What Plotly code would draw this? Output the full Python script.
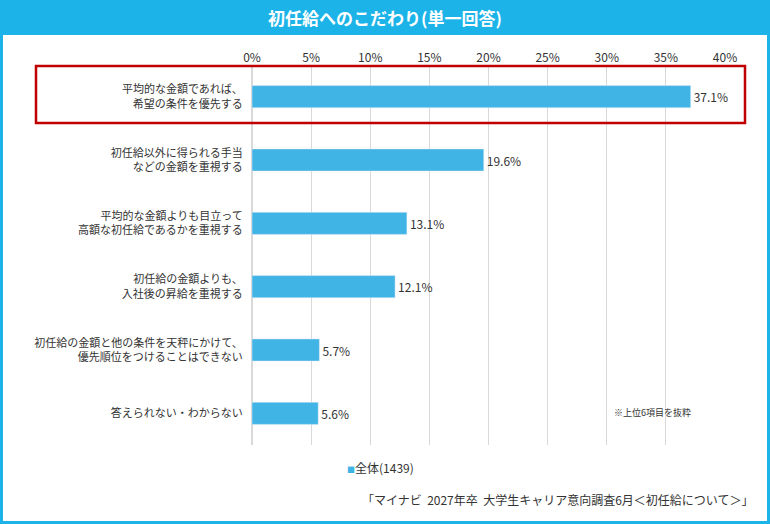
import plotly.graph_objects as go

categories = [
    "平均的な金額であれば、<br>希望の条件を優先する",
    "初任給以外に得られる手当<br>などの金額を重視する",
    "平均的な金額よりも目立って<br>高額な初任給であるかを重視する",
    "初任給の金額よりも、<br>入社後の昇給を重視する",
    "初任給の金額と他の条件を天秤にかけて、<br>優先順位をつけることはできない",
    "答えられない・わからない",
]
values = [37.1, 19.6, 13.1, 12.1, 5.7, 5.6]
series_name = "全体(1439)"
tick_vals = [0, 5, 10, 15, 20, 25, 30, 35, 40]

W, H = 770, 524
L, R, T, B = 252, 45, 65, 79
BLUE = "#1CB4E8"
BAR = "#41B4E6"
FONT = "Noto Sans CJK JP"


def fx(p):
    return (p - L) / (W - L - R)


def fy(p):
    return 1 - (p - T) / (H - T - B)


fig = go.Figure()
fig.add_trace(go.Bar(
    x=values, y=categories, orientation="h", name=series_name, showlegend=False,
    marker=dict(color=BAR), width=0.35,
    text=[f"{v:.1f}%" for v in values], textposition="outside",
    textfont=dict(size=12, color="#333"), cliponaxis=False,
))


def rect(x0, y0, x1, y1, **kw):
    fig.add_shape(type="rect", xref="paper", yref="paper",
                  x0=fx(x0), x1=fx(x1), y0=fy(y0), y1=fy(y1), **kw)


rect(1.5, 1.5, 768.5, 522.5, line=dict(color=BLUE, width=3), layer="below")
rect(1, 1, 769, 35, line=dict(width=0), fillcolor=BLUE, layer="below")
rect(36, 66, 745, 123, line=dict(color="#C00000", width=2.5))

fig.add_annotation(text="<b>初任給へのこだわり(単一回答)</b>", xref="paper", yref="paper",
                   x=fx(385), y=fy(18), xanchor="center", yanchor="middle", showarrow=False,
                   font=dict(size=17, color="white", family=FONT))
fig.add_annotation(text="※上位6項目を抜粋", xref="paper", yref="paper",
                   x=fx(612), y=fy(412), xanchor="left", yanchor="middle",
                   showarrow=False, font=dict(size=9, color="#333", family=FONT))
# legend drawn as text so the marker sits close to the label
fig.add_annotation(text=f"<span style='color:{BAR};font-size:8px'>■</span>{series_name}",
                   xref="paper", yref="paper", x=fx(345), y=fy(467), xanchor="left",
                   yanchor="middle", showarrow=False,
                   font=dict(size=12, color="#333", family=FONT))
fig.add_annotation(text="「マイナビ  2027年卒  大学生キャリア意向調査6月＜初任給について＞」",
                   xref="paper", yref="paper", x=fx(755), y=fy(500), xanchor="right",
                   yanchor="middle", showarrow=False,
                   font=dict(size=12, color="#333", family=FONT))

fig.update_layout(
    width=W, height=H, margin=dict(l=L, r=R, t=T, b=B),
    paper_bgcolor="white", plot_bgcolor="white",
    font=dict(family=FONT, color="#333"),
    showlegend=False,
)
fig.update_xaxes(side="top", range=[0, 40], tickvals=tick_vals,
                 ticktext=[f"{t}%" for t in tick_vals], showgrid=True,
                 gridcolor="#D9D9D9", zeroline=True, zerolinecolor="#D9D9D9",
                 tickfont=dict(size=12, color="#333"), ticks="", fixedrange=True)
fig.update_yaxes(autorange="reversed", tickfont=dict(size=11, color="#333"),
                 ticks="outside", ticklen=6, tickcolor="white", fixedrange=True)

fig.write_html("out.html", config={"displayModeBar": False},
               post_script="document.body.style.margin='0';")
